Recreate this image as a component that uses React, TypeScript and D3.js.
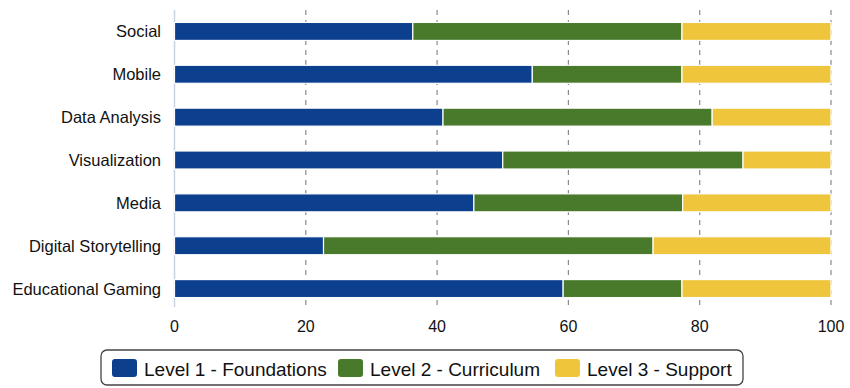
import React from "react";
import * as d3 from "d3";

const categories = [
  "Social",
  "Mobile",
  "Data Analysis",
  "Visualization",
  "Media",
  "Digital Storytelling",
  "Educational Gaming",
];
const seriesNames = ["Level 1 - Foundations", "Level 2 - Curriculum", "Level 3 - Support"];
const level1 = [36.3, 54.5, 40.9, 50.0, 45.6, 22.7, 59.2];
const level2 = [41.0, 22.8, 41.0, 36.6, 31.8, 50.2, 18.1];
const level3 = [22.7, 22.7, 18.1, 13.4, 22.6, 27.1, 22.7];
const xTicks = [0, 20, 40, 60, 80, 100];
const colors = ["#0d3f8f", "#497a2c", "#efc53c"];

const W = 850;
const H = 388;

export default function App() {
  const x = d3.scaleLinear().domain([0, 100]).range([174.5, 831]);
  const y = d3.scaleBand().domain(categories).range([10, 310]).paddingInner(0.58).paddingOuter(0.29);
  const rows = categories.map((c, i) => ({ cat: c, v: [level1[i], level2[i], level3[i]] }));
  const font = "'Liberation Sans', Arial, Helvetica, sans-serif";
  const legendX = [112, 338, 555];
  return (
    <svg width={W} height={H} style={{ position: "absolute", left: 0, top: 0, background: "#fff" }}>
      {/* gridlines */}
      {xTicks.slice(1).map((t) => (
        <line key={t} x1={x(t)} x2={x(t)} y1={10} y2={307} stroke="#8a8a8a" strokeWidth={1.2} strokeDasharray="5,5" />
      ))}
      <line x1={x(0)} x2={x(0)} y1={10} y2={307} stroke="#c5d3e3" strokeWidth={1.5} />
      {/* bars */}
      {rows.map((r) => {
        let acc = 0;
        return (
          <g key={r.cat}>
            {r.v.map((v, k) => {
              const x0 = x(acc);
              acc += v;
              const x1 = x(Math.min(acc, 100));
              return (
                <rect key={k} x={x0} y={y(r.cat)} width={x1 - x0} height={y.bandwidth()} fill={colors[k]} stroke="#fff" strokeWidth={1.2} />
              );
            })}
            <text x={161} y={(y(r.cat) as number) + y.bandwidth() / 2} dy="0.36em" textAnchor="end" fontFamily={font} fontSize={16.5} fill="#111">
              {r.cat}
            </text>
          </g>
        );
      })}
      {/* x tick labels */}
      {xTicks.map((t) => (
        <text key={t} x={x(t)} y={332} textAnchor="middle" fontFamily={font} fontSize={16} fill="#111">
          {t}
        </text>
      ))}
      {/* legend */}
      <rect x={101} y={350} width={642} height={35} rx={6} fill="#fff" stroke="#444" strokeWidth={1.3} />
      {seriesNames.map((s, i) => {
        const lx = legendX[i];
        return (
          <g key={s}>
            <rect x={lx} y={359} width={25} height={18} rx={3} fill={colors[i]} />
            <text x={lx + 32} y={376} fontFamily={font} fontSize={19} fill="#111">
              {s}
            </text>
          </g>
        );
      })}
    </svg>
  );
}
